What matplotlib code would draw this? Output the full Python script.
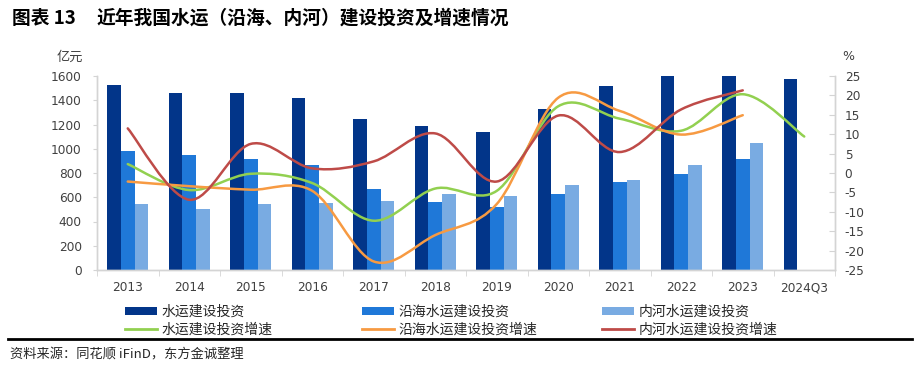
import matplotlib
matplotlib.use("Agg")
import matplotlib.pyplot as plt
from matplotlib.path import Path
from matplotlib.patches import PathPatch, Patch
from matplotlib.lines import Line2D
import numpy as np

plt.rcParams['font.family'] = ['Noto Sans CJK SC', 'DejaVu Sans']
plt.rcParams['axes.unicode_minus'] = False

# --- data ---
years = ["2013", "2014", "2015", "2016", "2017", "2018", "2019", "2020", "2021", "2022", "2023", "2024Q3"]
total_inv = [1528, 1462, 1457, 1416, 1243, 1190, 1136, 1330, 1515, 1600, 1599, 1578]
coastal_inv = [984, 948, 913, 866, 668, 561, 522, 624, 723, 794, 913]
inland_inv = [544, 506, 544, 550, 569, 627, 613, 704, 742, 866, 1050]
total_growth = [2.3, -4.4, -0.2, -2.6, -12.3, -4.0, -4.6, 17.2, 14.0, 10.9, 20.3, 9.4]
coastal_growth = [-2.2, -3.4, -4.3, -4.6, -22.8, -16.0, -8.0, 19.4, 16.0, 9.9, 14.9]
inland_growth = [11.5, -6.9, 7.5, 1.2, 3.0, 10.2, -2.2, 14.8, 5.4, 16.4, 21.3]

c_dark = "#023589"
c_mid = "#1f78d8"
c_light = "#79abe2"
c_green = "#92d050"
c_orange = "#f79a42"
c_red = "#be4b48"
axis_grey = "#d4d4d4"
text_grey = "#404040"
num_font = "DejaVu Sans"


def smooth_path(xs, ys):
    """Excel-like smoothed line: cubic bezier segments through the points."""
    pts = np.column_stack([xs, ys]).astype(float)
    n = len(pts)
    verts = [pts[0]]
    codes = [Path.MOVETO]
    for i in range(n - 1):
        p0 = pts[i - 1] if i > 0 else pts[i]
        p1 = pts[i]
        p2 = pts[i + 1]
        p3 = pts[i + 2] if i + 2 < n else pts[i + 1]
        verts += [p1 + (p2 - p0) / 6.0, p2 - (p3 - p1) / 6.0, p2]
        codes += [Path.CURVE4] * 3
    return Path(verts, codes)


fig = plt.figure(figsize=(9.18, 3.67), dpi=100)
ax = fig.add_axes([97 / 918, 97 / 367, 738 / 918, 194 / 367])
ax2 = ax.twinx()

x = np.arange(len(years))
bw = 0.22
ax.bar(x - bw, total_inv, width=bw, color=c_dark, zorder=2)
ax.bar(x[:len(coastal_inv)], coastal_inv, width=bw, color=c_mid, zorder=2)
ax.bar(x[:len(inland_inv)] + bw, inland_inv, width=bw, color=c_light, zorder=2)

ax.set_xlim(-0.5, len(years) - 0.5)
ax.set_ylim(0, 1600)
ax.set_yticks(range(0, 1601, 200))
ax2.set_ylim(-25, 25)
ax2.set_yticks(range(-25, 26, 5))

for vals, col in [(total_growth, c_green), (coastal_growth, c_orange), (inland_growth, c_red)]:
    pp = PathPatch(smooth_path(x[:len(vals)], vals), facecolor="none",
                   edgecolor=col, lw=1.8, capstyle="round", zorder=3)
    ax2.add_patch(pp)

# axes styling
ax.set_xticks(x)
ax.set_xticklabels(years, fontfamily=num_font, fontsize=8.7, color=text_grey)
ax.set_xticks(np.arange(-0.5, len(years), 1), minor=True)
ax.tick_params(axis="x", which="major", length=0, pad=8)
ax.tick_params(axis="x", which="minor", length=4, color=axis_grey, direction="out")
ax.tick_params(axis="y", length=3, color=axis_grey, direction="out", pad=8,
               labelsize=8.7, labelcolor=text_grey)
ax2.tick_params(axis="y", length=4, color=axis_grey, direction="in", pad=7,
                labelsize=8.7, labelcolor=text_grey)
for lab in ax.get_yticklabels() + ax2.get_yticklabels():
    lab.set_fontfamily(num_font)

for a in (ax, ax2):
    a.spines["top"].set_visible(False)
    for s in ("left", "right", "bottom"):
        a.spines[s].set_color(axis_grey)
        a.spines[s].set_linewidth(1.0)

fig.text(70 / 918, 1 - 57 / 367, "亿元", fontsize=9.5, color=text_grey, ha="center", va="center")
fig.text(848 / 918, 1 - 56 / 367, "%", fontfamily=num_font, fontsize=9, color=text_grey,
         ha="center", va="center")

# title
fig.text(12 / 918, 1 - 18 / 367, "图表 13", fontsize=13.5, fontweight="bold", ha="left", va="center")
fig.text(97 / 918, 1 - 18 / 367, "近年我国水运（沿海、内河）建设投资及增速情况", fontsize=13.5,
         fontweight="bold", ha="left", va="center")

# legend, three columns placed separately
cols = [
    (125, "水运建设投资", c_dark, "水运建设投资增速", c_green),
    (362, "沿海水运建设投资", c_mid, "沿海水运建设投资增速", c_orange),
    (602, "内河水运建设投资", c_light, "内河水运建设投资增速", c_red),
]
for xpos, bar_lab, bar_col, line_lab, line_col in cols:
    handles = [Patch(facecolor=bar_col, edgecolor="none", label=bar_lab),
               Line2D([], [], color=line_col, lw=2.0, label=line_lab)]
    fig.legend(handles=handles, loc="upper left", bbox_to_anchor=(xpos / 918, 1 - 305 / 367),
               frameon=False, fontsize=10, handlelength=2.3, handleheight=0.5,
               handletextpad=0.35, labelspacing=0.25, borderpad=0, borderaxespad=0,
               labelcolor="#262626")

# separator line and source note
fig.add_artist(Line2D([8 / 918, 912 / 918], [1 - 339 / 367, 1 - 339 / 367],
                      transform=fig.transFigure, color="black", lw=2.0))
fig.text(10 / 918, 1 - 355 / 367, "资料来源：同花顺 iFinD，东方金诚整理", fontsize=9.5,
         color="#262626", ha="left", va="center")

fig.savefig("out.png", dpi=100)
